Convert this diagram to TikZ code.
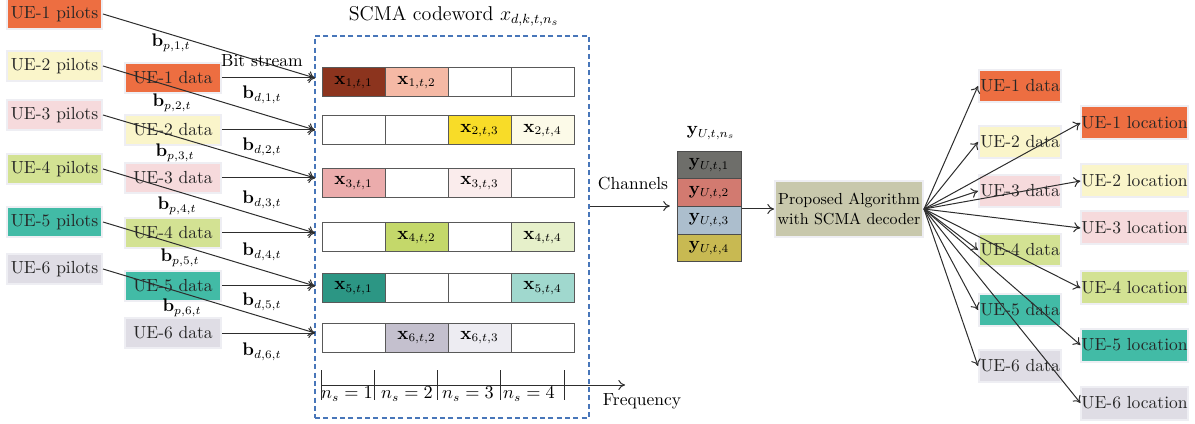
\documentclass[tikz,border=0pt]{standalone}
\usepackage{amsmath}
\usetikzlibrary{arrows.meta}
\definecolor{ueA}{RGB}{237,110,65}
\definecolor{ueB}{RGB}{250,245,202}
\definecolor{ueC}{RGB}{246,218,220}
\definecolor{ueD}{RGB}{211,226,147}
\definecolor{ueE}{RGB}{66,187,166}
\definecolor{ueF}{RGB}{223,221,229}
\definecolor{bordc}{RGB}{238,238,243}
\definecolor{dashblue}{RGB}{72,118,185}
\definecolor{lnc}{RGB}{45,45,45}
\definecolor{xa}{RGB}{140,52,30}
\definecolor{xb}{RGB}{245,185,165}
\definecolor{xc}{RGB}{248,220,40}
\definecolor{xd}{RGB}{252,250,232}
\definecolor{xe}{RGB}{235,172,172}
\definecolor{xf}{RGB}{250,236,236}
\definecolor{xg}{RGB}{196,216,106}
\definecolor{xh}{RGB}{230,240,202}
\definecolor{xi}{RGB}{44,150,132}
\definecolor{xj}{RGB}{160,216,206}
\definecolor{xk}{RGB}{196,192,206}
\definecolor{xl}{RGB}{237,236,242}
\definecolor{ya}{RGB}{110,110,106}
\definecolor{yb}{RGB}{210,122,112}
\definecolor{yc}{RGB}{172,190,205}
\definecolor{yd}{RGB}{200,185,82}
\definecolor{algc}{RGB}{200,200,172}
\begin{document}
\begin{tikzpicture}[x=0.6pt,y=-0.6pt,
  every node/.style={font=\fontsize{10.5}{12.6}\selectfont},
  uebox/.style={draw=bordc,line width=1.2pt,inner sep=0pt,minimum height=18pt,text=black!85},
  pilot/.style={uebox,minimum width=57pt},
  ldata/.style={uebox,minimum width=57.6pt},
  rdata/.style={uebox,minimum width=49.2pt,minimum height=19.2pt},
  locbox/.style={uebox,minimum width=63pt,minimum height=19.8pt},
  cell/.style={draw=black!65,line width=0.6pt,minimum width=37.8pt,minimum height=17.4pt,inner sep=0pt},
  ycell/.style={draw=black!70,line width=0.6pt,minimum width=38.4pt,minimum height=16.62pt,inner sep=0pt},
  arr/.style={draw=lnc,line width=0.6pt,-{To[length=4pt,width=6pt]}},
  lbl/.style={inner sep=1pt}
]
\useasboundingbox (0,0) rectangle (1195,424);

% dashed codeword frame
\node[draw=dashblue,dash pattern=on 3pt off 2pt,line width=0.65pt,minimum width=164.4pt,minimum height=229.2pt,inner sep=0pt] (cw) at (452,227) {};
\node[lbl,font=\fontsize{12}{14}\selectfont] (title) at (454,16) {SCMA codeword $x_{d,k,t,n_s}$};

% pilot boxes
\node[pilot,fill=ueA] (p1) at (54.5,14) {UE-1 pilots};
\node[pilot,fill=ueB] (p2) at (54.5,66) {UE-2 pilots};
\node[pilot,fill=ueC] (p3) at (54.5,115) {UE-3 pilots};
\node[pilot,fill=ueD] (p4) at (54.5,169) {UE-4 pilots};
\node[pilot,fill=ueE] (p5) at (54.5,222) {UE-5 pilots};
\node[pilot,fill=ueF] (p6) at (54.5,269) {UE-6 pilots};

% data boxes (left)
\node[ldata,fill=ueA] (d1) at (173,78) {UE-1 data};
\node[ldata,fill=ueB] (d2) at (173,130) {UE-2 data};
\node[ldata,fill=ueC] (d3) at (173,178) {UE-3 data};
\node[ldata,fill=ueD] (d4) at (173,233) {UE-4 data};
\node[ldata,fill=ueE] (d5) at (173,286) {UE-5 data};
\node[ldata,fill=ueF] (d6) at (173,333) {UE-6 data};

% entry points on the frame
\coordinate (in1) at (315,78);
\coordinate (in2) at (315,130);
\coordinate (in3) at (315,178);
\coordinate (in4) at (315,233);
\coordinate (in5) at (315,286);
\coordinate (in6) at (315,333);

\foreach \i in {1,...,6}{
  \draw[arr] (d\i.east) -- (in\i);
  \draw[arr] (p\i.east) -- (in\i);
}

\node[lbl] (bs) at (262,61) {Bit stream};
\node[lbl] (bp1) at (171,43) {$\mathbf{b}_{p,1,t}$};
\node[lbl] (bp2) at (172,103) {$\mathbf{b}_{p,2,t}$};
\node[lbl] (bp3) at (175,153) {$\mathbf{b}_{p,3,t}$};
\node[lbl] (bp4) at (177,206) {$\mathbf{b}_{p,4,t}$};
\node[lbl] (bp5) at (180,258) {$\mathbf{b}_{p,5,t}$};
\node[lbl] (bp6) at (182,308) {$\mathbf{b}_{p,6,t}$};
\node[lbl] (bd1) at (262,95) {$\mathbf{b}_{d,1,t}$};
\node[lbl] (bd2) at (262,147) {$\mathbf{b}_{d,2,t}$};
\node[lbl] (bd3) at (262,200) {$\mathbf{b}_{d,3,t}$};
\node[lbl] (bd4) at (262,252) {$\mathbf{b}_{d,4,t}$};
\node[lbl] (bd5) at (262,302) {$\mathbf{b}_{d,5,t}$};
\node[lbl] (bd6) at (262,352) {$\mathbf{b}_{d,6,t}$};

% codeword cells
\foreach \r/\y in {1/82.5,2/130.5,3/183,4/237.5,5/288,6/337.5}{
  \foreach \k/\x in {1/353.5,2/416.5,3/479.5,4/542.5}{
    \node[cell] (c\r\k) at (\x,\y) {};
  }
}
\node[cell,fill=xa] at (c11) {$\mathbf{x}_{1,t,1}$};
\node[cell,fill=xb] at (c12) {$\mathbf{x}_{1,t,2}$};
\node[cell,fill=xc] at (c23) {$\mathbf{x}_{2,t,3}$};
\node[cell,fill=xd] at (c24) {$\mathbf{x}_{2,t,4}$};
\node[cell,fill=xe] at (c31) {$\mathbf{x}_{3,t,1}$};
\node[cell,fill=xf] at (c33) {$\mathbf{x}_{3,t,3}$};
\node[cell,fill=xg] at (c42) {$\mathbf{x}_{4,t,2}$};
\node[cell,fill=xh] at (c44) {$\mathbf{x}_{4,t,4}$};
\node[cell,fill=xi] at (c51) {$\mathbf{x}_{5,t,1}$};
\node[cell,fill=xj] at (c54) {$\mathbf{x}_{5,t,4}$};
\node[cell,fill=xk] at (c62) {$\mathbf{x}_{6,t,2}$};
\node[cell,fill=xl] at (c63) {$\mathbf{x}_{6,t,3}$};

% frequency axis
\coordinate (ax0) at (321,385);
\coordinate (ax1) at (625,385);
\draw[arr] (ax0) -- (ax1);
\foreach \x in {321,374,437,500,564}{
  \draw[draw=lnc,line width=0.6pt] (\x,370) -- (\x,400);
}
\node[lbl] (n1) at (347,394) {$n_s=1$};
\node[lbl] (n2) at (407,394) {$n_s=2$};
\node[lbl] (n3) at (468,394) {$n_s=3$};
\node[lbl] (n4) at (529,394) {$n_s=4$};
\node[lbl] (freq) at (642,401) {Frequency};

% received signal column
\node[ycell,fill=ya] (y1) at (709,165) {$\mathbf{y}_{U,t,1}$};
\node[ycell,fill=yb] (y2) at (709,192.7) {$\mathbf{y}_{U,t,2}$};
\node[ycell,fill=yc] (y3) at (709,220.4) {$\mathbf{y}_{U,t,3}$};
\node[ycell,fill=yd] (y4) at (709,248.1) {$\mathbf{y}_{U,t,4}$};
\node[lbl] (ylab) at (711,133) {$\mathbf{y}_{U,t,n_s}$};

\coordinate (chin) at ([xshift=-4pt]y3.north west);
\draw[arr] (cw.east |- chin) -- (chin);
\node[lbl] (chan) at (633,184) {Channels};

% algorithm
\node[draw=bordc,line width=1.2pt,fill=algc,minimum width=88.8pt,minimum height=33.6pt,inner sep=0pt,align=center,font=\fontsize{9.6}{12}\selectfont] (alg) at (849,209) {Proposed Algorithm\\with SCMA decoder};
\draw[arr] (alg.west -| y3.east) -- (alg.west);

% outputs
\node[rdata,fill=ueA] (o1) at (1020,86) {UE-1 data};
\node[rdata,fill=ueB] (o2) at (1020,142) {UE-2 data};
\node[rdata,fill=ueC] (o3) at (1020,191) {UE-3 data};
\node[rdata,fill=ueD] (o4) at (1020,250) {UE-4 data};
\node[rdata,fill=ueE] (o5) at (1020,310) {UE-5 data};
\node[rdata,fill=ueF] (o6) at (1020,366) {UE-6 data};
\node[locbox,fill=ueA] (l1) at (1134.5,123) {UE-1 location};
\node[locbox,fill=ueB] (l2) at (1134.5,181) {UE-2 location};
\node[locbox,fill=ueC] (l3) at (1134.5,228) {UE-3 location};
\node[locbox,fill=ueD] (l4) at (1134.5,288) {UE-4 location};
\node[locbox,fill=ueE] (l5) at (1134.5,345) {UE-5 location};
\node[locbox,fill=ueF] (l6) at (1134.5,403) {UE-6 location};

\foreach \i in {1,...,6}{
  \draw[arr] (alg.east) -- (o\i.west);
  \draw[arr] (alg.east) -- (l\i.west);
}
\end{tikzpicture}
\end{document}
